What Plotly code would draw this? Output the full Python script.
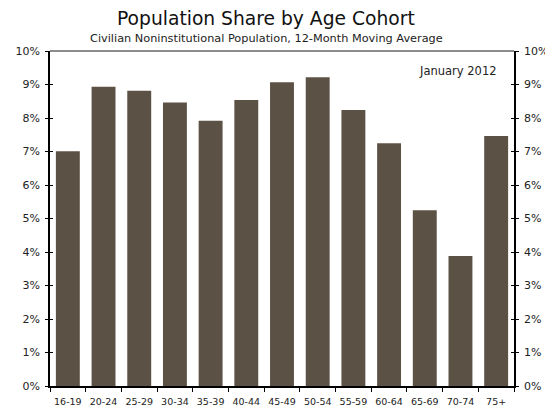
import plotly.graph_objects as go

categories = ["16-19", "20-24", "25-29", "30-34", "35-39", "40-44", "45-49",
              "50-54", "55-59", "60-64", "65-69", "70-74", "75+"]
shares = [7.01, 8.93, 8.81, 8.46, 7.92, 8.54, 9.07, 9.22, 8.24, 7.25, 5.25, 3.88, 7.46]
y_ticks = [0, 1, 2, 3, 4, 5, 6, 7, 8, 9, 10]
y_tick_labels = [f"{v}%" for v in y_ticks]

FONT = "DejaVu Sans"
BAR = "#5c5145"

fig = go.Figure()
fig.add_trace(go.Bar(x=categories, y=shares, marker=dict(color=BAR, line=dict(width=0)),
                     width=0.67, showlegend=False, hoverinfo="x+y"))
for ya in ["y2", "y3", "y4"]:
    fig.add_trace(go.Scatter(x=[categories[0]], y=[0], yaxis=ya, mode="markers",
                             marker=dict(opacity=0), showlegend=False, hoverinfo="skip"))

common_y = dict(range=[0, 10], tickvals=y_ticks, showgrid=False, zeroline=False,
                showline=True, linecolor="black", linewidth=1.5, tickcolor="black",
                ticklen=3, tickwidth=1, fixedrange=True, automargin=False)

# the page body has an 8px margin, so the figure is sized to fill the rest of the window
fig.update_layout(
    width=545, height=402,
    margin=dict(l=42, r=39, t=43, b=24),
    paper_bgcolor="white", plot_bgcolor="white",
    font=dict(family=FONT, size=11, color="#222"),
    xaxis=dict(type="category", tickson="boundaries", ticks="outside", ticklen=4,
               tickcolor="black", showline=True, linecolor="black", linewidth=1.5,
               showgrid=False, tickfont=dict(size=9.5, color="#222"), tickangle=0,
               ticklabelstandoff=6,
               automargin=False, fixedrange=True, range=[-0.5, len(categories) - 0.5]),
    yaxis=dict(**common_y, side="left", ticks="outside", ticktext=y_tick_labels,
               ticklabelstandoff=3, tickfont=dict(size=11, color="#222")),
    yaxis2=dict(**common_y, side="right", overlaying="y", ticks="outside",
                ticktext=y_tick_labels, ticklabelstandoff=3,
                tickfont=dict(size=11, color="#222")),
    yaxis3=dict(**common_y, side="left", overlaying="y", ticks="inside", showticklabels=False),
    yaxis4=dict(**common_y, side="right", overlaying="y", ticks="inside", showticklabels=False),
    shapes=[dict(type="line", xref="paper", yref="paper", x0=0, x1=1, y0=1, y1=1,
                 line=dict(color="#666", width=1.5))],
    annotations=[
        dict(text="Population Share by Age Cohort", xref="paper", yref="paper",
             x=0.466, y=1.0985, xanchor="center", yanchor="middle", showarrow=False,
             font=dict(family=FONT, size=18.7, color="#111")),
        dict(text="Civilian Noninstitutional Population, 12-Month Moving Average",
             xref="paper", yref="paper", x=0.466, y=1.0388, xanchor="center",
             yanchor="middle", showarrow=False,
             font=dict(family=FONT, size=11.3, color="#222")),
        dict(text="January 2012", xref="paper", yref="paper", x=0.968, y=0.94,
             xanchor="right", yanchor="middle", showarrow=False,
             font=dict(family=FONT, size=11.5, color="#222")),
    ],
)

fig.write_html("out.html")
